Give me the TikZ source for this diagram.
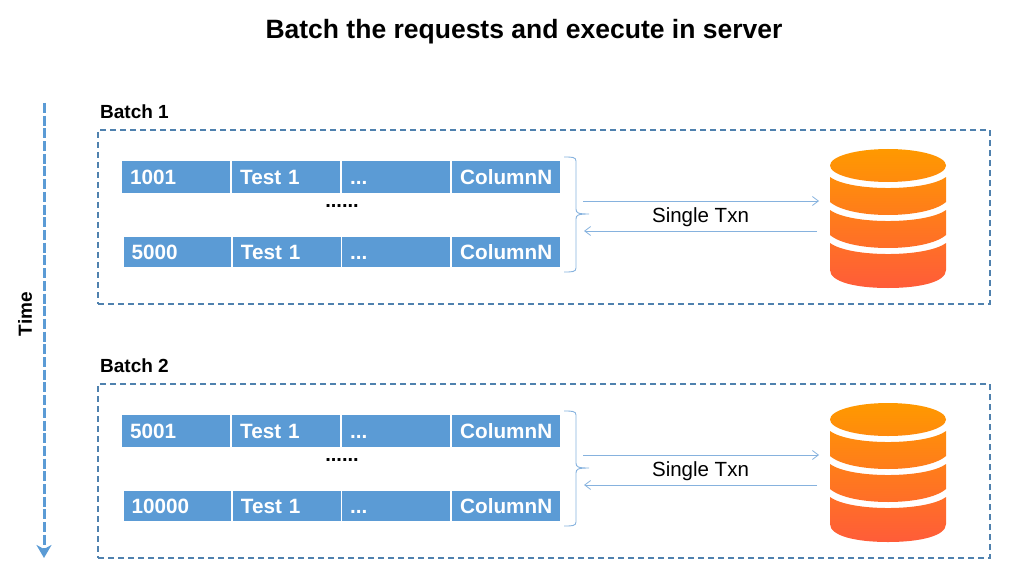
\documentclass[tikz,border=0pt]{standalone}
\usepackage{fontspec}
\setmainfont{Liberation Sans}
\usetikzlibrary{arrows.meta}
\definecolor{cellblue}{HTML}{5B9BD5}
\definecolor{frameblue}{HTML}{4F81AE}
\definecolor{linkblue}{HTML}{86B2DE}
\definecolor{dbtop}{HTML}{FF9900}
\definecolor{dbbottom}{HTML}{FF5C39}
\newcommand{\threedots}{...}
% one slice of the database: edge top, edge bottom, sag of lower rim
\newcommand{\dbband}[3]{(830,#1) .. controls (850,{#1+14.7}) and (926,{#1+14.7}) .. (946,#1) -- (946,#2) .. controls (926,{#2+#3*4/3}) and (850,{#2+#3*4/3}) .. (830,#2) -- cycle}
\tikzset{
  title/.style={font=\bfseries\fontsize{26.5}{30}\selectfont},
  tag/.style={font=\bfseries\fontsize{19}{22}\selectfont},
  cell/.style={fill=cellblue, text=white, anchor=north west, inner xsep=8pt, inner ysep=0pt, align=left,
    text height=15pt, text depth=0pt, font=\bfseries\fontsize{20.7}{24}\selectfont},
  frame/.style={draw=frameblue, line width=1.2pt, dash pattern=on 6pt off 4pt, minimum width=892pt, minimum height=174pt, inner sep=0pt},
  link/.style={draw=linkblue, line width=0.9pt},
  barb/.style={link, -{Straight Barb[length=6pt, width=9pt, line width=0.8pt]}}
}
\begin{document}
\begin{tikzpicture}[x=1pt, y=-1pt]
  \useasboundingbox (0,0) rectangle (1024,580);
  \node (title) at (524,32) [title] {Batch the requests and execute in server};
  \coordinate (timetop) at (44,103);
  \coordinate (timebot) at (44,558);
  \draw [cellblue, line width=3pt, dash pattern=on 10pt off 2.7pt, -{Stealth[length=13pt, width=15pt, inset=4pt]}] (timetop) -- (timebot);
  \node (time) at (25,314) [rotate=90, tag] {Time};
  \foreach \b/\oy/\first/\last in {1/0/1001/5000, 2/254/5001/10000}{
    \begin{scope}[shift={(0,\oy)}]
      \node (batch\b) at (100,112) [tag, anchor=west, inner sep=0pt] {Batch \b};
      \node (frame\b) at (544,217) [frame] {};
      \foreach \c/\cx/\cw/\txt in {a/122/108/\first, b/232/108/Test 1, c/342/108/\threedots, d/452/108/ColumnN}{
        \node (top\b\c) at (\cx,161) [cell, text width=\cw pt-16pt, minimum height=32pt] {\txt};
      }
      \foreach \c/\cx/\cw/\txt in {a/123.5/107.5/\last, b/232.7/108/Test 1, c/342/108/\threedots, d/452/108/ColumnN}{
        \node (low\b\c) at (\cx,236.5) [cell, text width=\cw pt-16pt, minimum height=30.5pt] {\txt};
      }
      \node (dots\b) at (342,206) [font=\bfseries\fontsize{20}{24}\selectfont, inner sep=0pt] {......};
      % brace
      \coordinate (brtop\b) at (564,157);
      \coordinate (brtip\b) at (589,214);
      \coordinate (brlow\b) at (564,272);
      \draw [link] (brtop\b) .. controls (572,157) and (576,157) .. (576,161) -- (576,209)
        .. controls (576,213) and (578,214) .. (brtip\b) .. controls (578,214) and (576,215) .. (576,219)
        -- (576,268) .. controls (576,272) and (572,272) .. (brlow\b);
      % requests and replies
      \coordinate (sendfrom\b) at (583,201);
      \coordinate (sendto\b) at (819,201);
      \coordinate (backfrom\b) at (817,231);
      \coordinate (backto\b) at (584,231);
      \draw [barb] (sendfrom\b) -- (sendto\b);
      \draw [barb] (backfrom\b) -- (backto\b);
      \node (txn\b) at (700.5,217) [font=\fontsize{20.5}{24}\selectfont, inner sep=0pt] {Single Txn};
      % database
      \begin{scope}
        \clip (888,165.5) ellipse [x radius=58, y radius=16.5]
          \dbband{177}{202}{13} \dbband{210}{235}{13}
          (830,243) .. controls (850,257.7) and (926,257.7) .. (946,243) -- (946,270)
          .. controls (946,282) and (920,288) .. (888,288) .. controls (856,288) and (830,282) .. (830,270) -- cycle;
        \shade [top color=dbtop, bottom color=dbbottom] (825,149) rectangle (951,288);
      \end{scope}
    \end{scope}
  }
\end{tikzpicture}
\end{document}
